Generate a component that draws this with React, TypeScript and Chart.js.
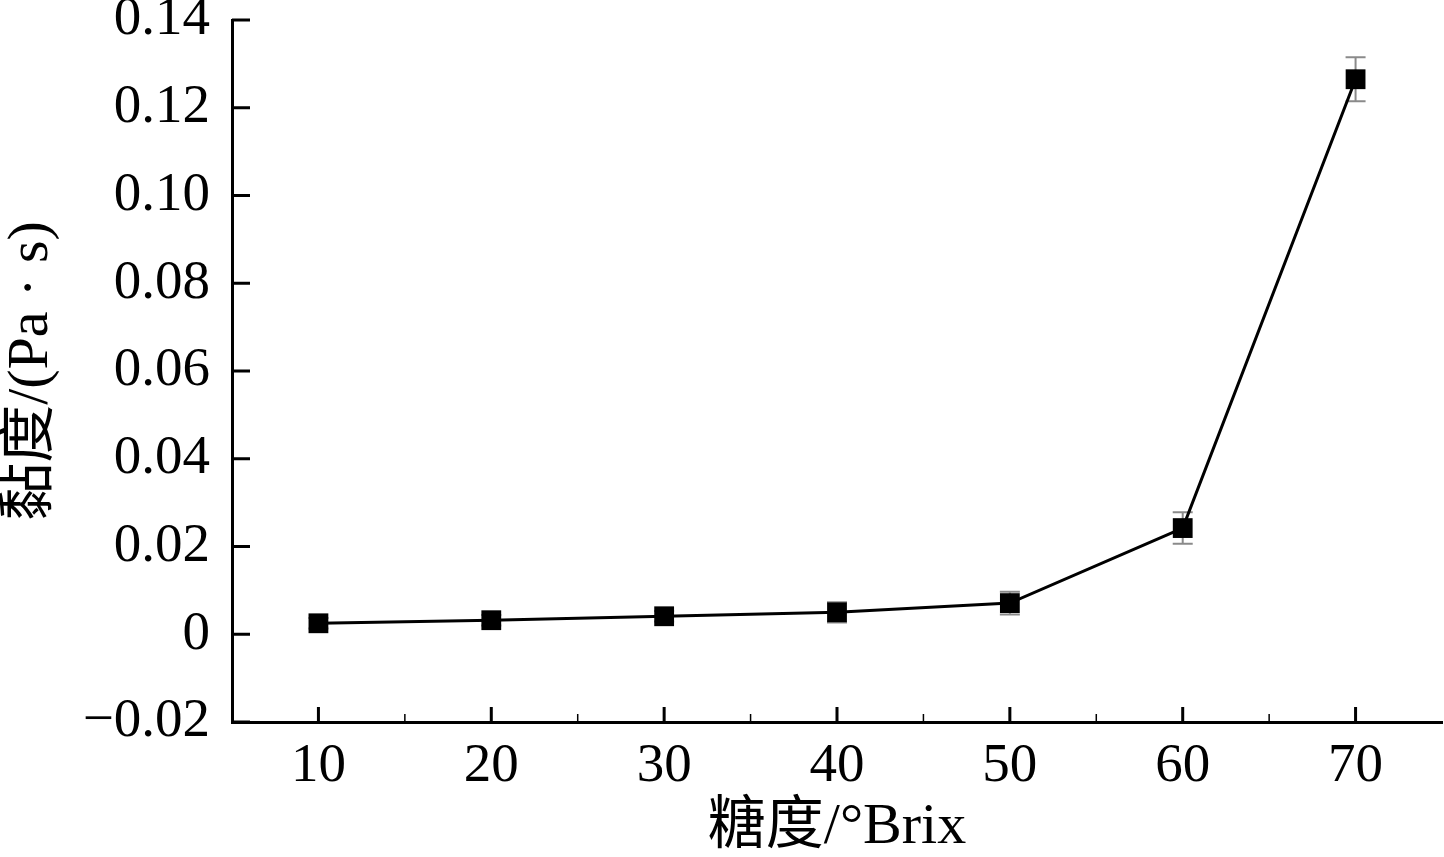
import React, { useEffect, useRef } from "react";
import { Chart, registerables } from "chart.js";

Chart.register(...registerables);

const sugar = [10, 20, 30, 40, 50, 60, 70];
const viscosity = [0.0025, 0.0032, 0.0041, 0.005, 0.0071, 0.0242, 0.1265];
const errors = [0.0012, 0.0012, 0.0012, 0.0023, 0.0026, 0.0036, 0.005];
const xTicks = [10, 20, 30, 40, 50, 60, 70];
const xMinorTicks = [15, 25, 35, 45, 55, 65];
const yTicks = [-0.02, 0, 0.02, 0.04, 0.06, 0.08, 0.1, 0.12, 0.14];

const FONT = "'Liberation Serif', 'Times New Roman', 'Noto Sans CJK SC', serif";

const fmt = (v: number) => {
  if (Math.abs(v) < 1e-9) return "0";
  const s = Math.abs(v).toFixed(2);
  return v < 0 ? "\u2212" + s : s;
};

const zeroPad = (s: any) => {
  s.paddingTop = 0;
  s.paddingBottom = 0;
  s.paddingLeft = 0;
  s.paddingRight = 0;
};

const errorBarPlugin = {
  id: "errorBars",
  beforeDatasetsDraw(chart: any) {
    const { ctx, scales } = chart;
    const xs = scales.x;
    const ys = scales.y;
    ctx.save();
    ctx.strokeStyle = "#8a8a8a";
    ctx.lineWidth = 2;
    sugar.forEach((x, i) => {
      const px = xs.getPixelForValue(x);
      const top = ys.getPixelForValue(viscosity[i] + errors[i]);
      const bot = ys.getPixelForValue(viscosity[i] - errors[i]);
      ctx.beginPath();
      ctx.moveTo(px, top);
      ctx.lineTo(px, bot);
      ctx.moveTo(px - 10, top);
      ctx.lineTo(px + 10, top);
      ctx.moveTo(px - 10, bot);
      ctx.lineTo(px + 10, bot);
      ctx.stroke();
    });
    ctx.restore();
  },
};

const inwardTicksPlugin = {
  id: "inwardTicks",
  afterDraw(chart: any) {
    const { ctx, scales, chartArea } = chart;
    ctx.save();
    ctx.strokeStyle = "#000";
    ctx.lineWidth = 3;
    ctx.beginPath();
    xTicks.forEach((v) => {
      const px = scales.x.getPixelForValue(v);
      ctx.moveTo(px, chartArea.bottom);
      ctx.lineTo(px, chartArea.bottom - 15);
    });
    yTicks.forEach((v) => {
      const py = scales.y.getPixelForValue(v);
      ctx.moveTo(chartArea.left, py);
      ctx.lineTo(chartArea.left + 18, py);
    });
    ctx.stroke();
    ctx.lineWidth = 1.5;
    ctx.beginPath();
    xMinorTicks.forEach((v) => {
      const px = scales.x.getPixelForValue(v);
      ctx.moveTo(px, chartArea.bottom);
      ctx.lineTo(px, chartArea.bottom - 8);
    });
    ctx.stroke();
    ctx.restore();
  },
};

export default function App() {
  const ref = useRef<HTMLCanvasElement | null>(null);
  useEffect(() => {
    if (!ref.current) return;
    const chart = new Chart(ref.current, {
      type: "line",
      data: {
        datasets: [
          {
            data: sugar.map((x, i) => ({ x, y: viscosity[i] })),
            borderColor: "#000",
            backgroundColor: "#000",
            borderWidth: 3,
            pointStyle: "rect",
            pointRadius: 14,
            pointBorderWidth: 0,
            pointBackgroundColor: "#000",
            tension: 0,
            clip: false as any,
          },
        ],
      },
      plugins: [errorBarPlugin, inwardTicksPlugin],
      options: {
        animation: false,
        responsive: false,
        maintainAspectRatio: false,
        layout: { autoPadding: false, padding: { top: 20, right: 2, left: 0, bottom: 0 } },
        plugins: { legend: { display: false }, tooltip: { enabled: false } },
        scales: {
          x: {
            type: "linear",
            min: 5,
            max: 75,
            afterBuildTicks: (s: any) => {
              s.ticks = xTicks.map((v) => ({ value: v }));
            },
            afterFit: (s: any) => {
              s.height = 135;
              zeroPad(s);
            },
            grid: { display: true, drawOnChartArea: false, drawTicks: false },
            border: { display: true, color: "#000", width: 3 },
            ticks: {
              color: "#000",
              padding: 12,
              maxRotation: 0,
              font: { family: FONT, size: 55 },
              callback: (v: any) => String(v),
            },
            title: {
              display: true,
              text: "糖度/°Brix",
              color: "#000",
              font: { family: FONT, size: 58, lineHeight: 1.0 },
              padding: { top: 0, bottom: 0 },
            },
          },
          y: {
            type: "linear",
            min: -0.02,
            max: 0.14,
            afterBuildTicks: (s: any) => {
              s.ticks = yTicks.map((v) => ({ value: v }));
            },
            afterFit: (s: any) => {
              s.width = 232;
              zeroPad(s);
            },
            grid: { display: true, drawOnChartArea: false, drawTicks: false },
            border: { display: true, color: "#000", width: 3 },
            ticks: {
              color: "#000",
              padding: 22,
              font: { family: FONT, size: 55 },
              callback: (v: any) => fmt(Number(v)),
            },
            title: {
              display: true,
              text: "黏度/(Pa · s)",
              color: "#000",
              font: { family: FONT, size: 58, lineHeight: 1.0 },
              padding: { top: 3, bottom: 0 },
            },
          },
        },
      },
    });
    return () => chart.destroy();
  }, []);
  return (
    <div style={{ position: "fixed", left: 0, top: 0, width: 1444, height: 857, background: "#fff" }}>
      <canvas ref={ref} width={1444} height={857} style={{ width: 1444, height: 857, display: "block" }} />
    </div>
  );
}
